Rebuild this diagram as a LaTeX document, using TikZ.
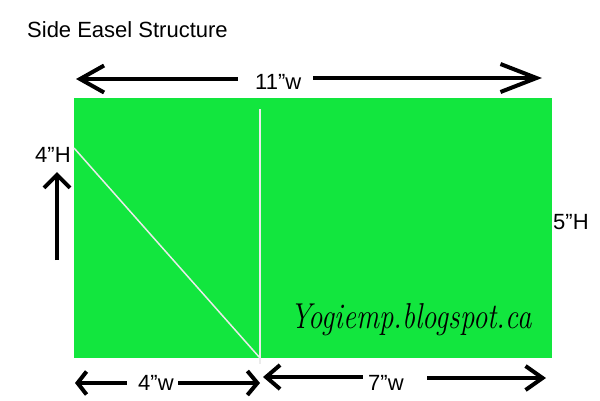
\documentclass[tikz,border=0pt]{standalone}
\usepackage{fontspec}
\usepackage{tikz}
\usetikzlibrary{arrows.meta}
\newfontfamily\labelfont{Liberation Sans}
\definecolor{easelgreen}{RGB}{18, 230, 62}
\definecolor{creasegray}{RGB}{235, 235, 235}
\tikzset{dimline/.style = {line width = 4pt}}
\tikzset{lbl/.style = {font = \labelfont\fontsize{22}{26}\selectfont, inner sep = 0, anchor = base west}}
\tikzset{crease/.style = {creasegray, line width = 1.5pt}}

\begin{document}
\begin{tikzpicture}[x = 1pt, y = -1pt]
    \useasboundingbox (0, 0) rectangle (600, 400);

    \fill [easelgreen] (74, 98) rectangle (552, 358);
    \coordinate (foldtop) at (260, 109);
    \coordinate (foldbot) at (260, 364);
    \coordinate (diagtop) at (74, 148);
    \coordinate (diagbot) at (260, 358);
    \draw [crease] (foldtop) -- (foldbot);
    \draw [crease] (diagtop) -- (diagbot);

    \node [lbl] (title) at (27, 37) {Side Easel Structure};

    % overall width
    \node [lbl] (wtop) at (255, 89) {11”w};
    \coordinate (wtopL) at (76, 79);
    \coordinate (wtopR) at (542, 78);
    \draw [dimline, {Straight Barb[length = 24pt, width = 27pt]}-] (wtopL) -- (238, 79);
    \draw [dimline, -{Straight Barb[length = 36pt, width = 28pt]}] (313, 78) -- (wtopR);

    % heights
    \node [lbl] (hleft) at (35, 162) {4”H};
    \node [lbl] (hright) at (553, 229) {5”H};
    \coordinate (upfoot) at (57, 260);
    \coordinate (uptip) at (57, 172);
    \draw [dimline, -{Straight Barb[length = 13pt, width = 26pt]}] (upfoot) -- (uptip);

    % bottom widths
    \node [lbl] (wfour) at (138, 390) {4”w};
    \coordinate (fourL) at (75, 383);
    \coordinate (fourR) at (260, 383);
    \draw [dimline, {Straight Barb[length = 9pt, width = 23pt]}-] (fourL) -- (127, 383);
    \draw [dimline, -{Straight Barb[length = 10pt, width = 24pt]}] (178, 383) -- (fourR);

    \node [lbl] (wseven) at (368, 390) {7”w};
    \coordinate (sevenL) at (263, 377);
    \coordinate (sevenR) at (546, 378);
    \draw [dimline, {Straight Barb[length = 14pt, width = 24pt]}-] (sevenL) -- (363, 377);
    \draw [dimline, -{Straight Barb[length = 17pt, width = 24pt]}] (427, 378) -- (sevenR);

    \node [inner sep = 0, anchor = base west, xscale = 0.8,
           font = \itshape\fontsize{36}{40}\selectfont] (site) at (290, 328) {Yogiemp.blogspot.ca};
\end{tikzpicture}
\end{document}
